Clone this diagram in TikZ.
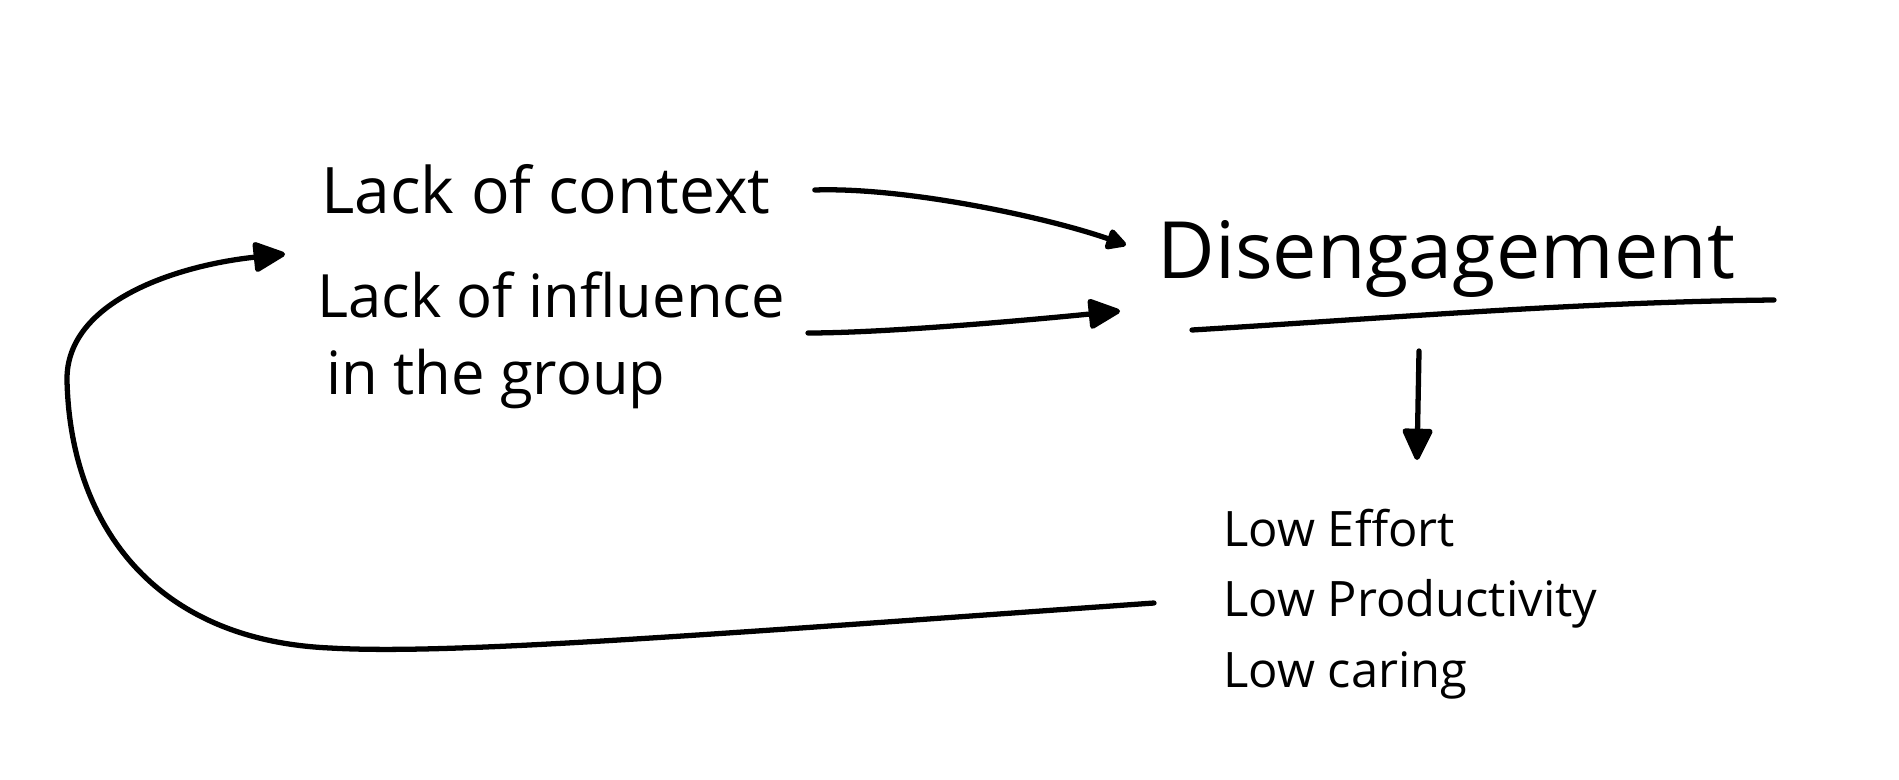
\documentclass[tikz,border=0pt]{standalone}
\usepackage{fontspec}
\setmainfont{Open Sans}
\usetikzlibrary{arrows.meta,calc}
\begin{document}
\begin{tikzpicture}[x=0.02cm,y=-0.02cm,
  ink/.style={line width=3pt, line cap=round, line join=round},
  arrbig/.style={ink, -{Triangle[length=20pt,width=18pt,round]}},
  arrsmall/.style={ink, -{Triangle[length=13pt,width=13pt,round]}},
  hand/.style={inner sep=0pt, anchor=base west, align=left},
]
\useasboundingbox[fill=white] (0,0) rectangle (1899,780);
\node[hand, font=\fontsize{36.5}{44}\selectfont] (ctx) at (321,214) {Lack of context};
\node[hand, font=\fontsize{34}{44}\selectfont] (inf) at (317,395) {Lack of influence\\\hspace*{5pt}in the group};
\node[hand, font=\fontsize{45}{54}\selectfont] (dis) at (1157,279) {Disengagement};
\node[hand, font=\fontsize{27.8}{40}\selectfont] (low) at (1223,687) {Low Effort\\Low Productivity\\Low caring};
% underline
\draw[ink] ($(dis.base west)+(35,51)$) .. controls ($(dis.base west)+(233,39)$) and ($(dis.base west)+(423,23)$) .. ($(dis.base west)+(617,21)$);
% arrows
\draw[arrsmall] ($(ctx.base east)+(44,-24)$) .. controls +(90,-3) and +(-80,-28) .. ($(dis.base west)+(-31,-34)$);
\draw[arrbig] ($(inf.base east)+(23,-62)$) .. controls +(80,0) and +(-80,8) .. ($(dis.base west)+(-37,32)$);
\draw[arrbig] ($(dis.base west)+(262,72)$) -- ($(dis.base west)+(260,181)$);
\draw[arrbig] ($(low.base west)+(-69,-84)$) .. controls (700,635) and (450,655) .. (330,648) .. controls (150,640) and (70,520) .. (67,380) .. controls (66,300) and (180,265) .. ($(inf.base west)+(-32,-141)$);
\end{tikzpicture}
\end{document}
